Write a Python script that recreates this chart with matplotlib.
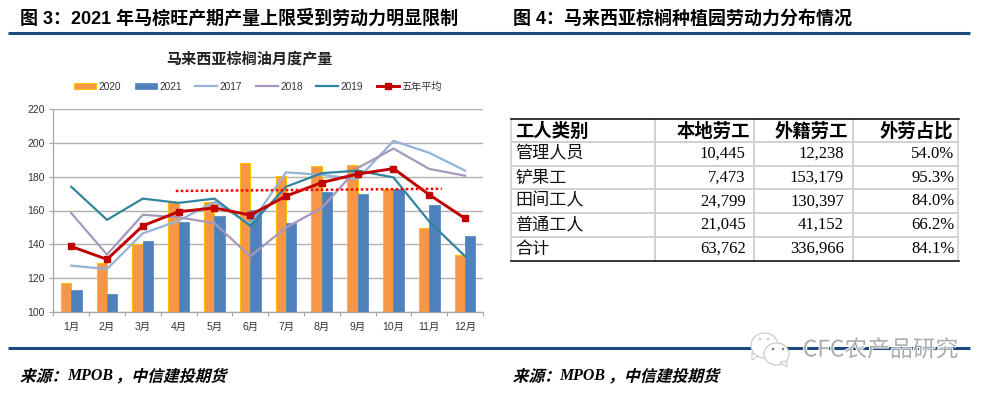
import matplotlib
matplotlib.use('Agg')
import matplotlib.pyplot as plt
from matplotlib.patches import Ellipse, Polygon
from matplotlib.transforms import Affine2D
import matplotlib.patheffects as pe
import numpy as np

CJK = ['Noto Sans CJK SC', 'DejaVu Sans']
SANS = ['Liberation Sans', 'Noto Sans CJK SC']
MIX = ['Liberation Serif', 'Noto Sans CJK SC']
plt.rcParams['font.family'] = SANS

months = ['1月','2月','3月','4月','5月','6月','7月','8月','9月','10月','11月','12月']
y2020 = [117,129,140,165,165,188,180.5,186.5,187,172.5,149.5,133.5]
y2021 = [113,111,142,153,157,160.5,152.5,171,170,172.5,163.5,145]
y2017 = [127.5,125.5,146.5,154,165,152,182.5,181,178.5,201,194,183.5]
y2018 = [158.5,134,157.5,156,152.5,133,150,161.5,185,196.5,184.5,180.5]
y2019 = [174,154.5,167,164.5,167,151,174,182,183.5,179.5,153.5,133]
avg5 = [138.8,131.2,151,159.3,161.5,157.3,168.5,176.5,181.5,184.7,169.3,155.3]
trend_x = [2.92,10.35]
trend_y = [171.5,172.8]

table_header = ['工人类别','本地劳工','外籍劳工','外劳占比']
table_rows = [['管理人员','10,445','12,238','54.0%'],
              ['铲果工','7,473','153,179','95.3%'],
              ['田间工人','24,799','130,397','84.0%'],
              ['普通工人','21,045','41,152','66.2%'],
              ['合计','63,762','336,966','84.1%']]

W,H = 991,394
fig = plt.figure(figsize=(W/100,H/100),dpi=100,facecolor='white')
bg = fig.add_axes([0,0,1,1]); bg.set_xlim(0,W); bg.set_ylim(H,0); bg.axis('off')


class Shear(pe.AbstractPathEffect):
    """Slants glyphs about a baseline, for the italic CJK source lines."""
    def __init__(self, y0, deg=14):
        super().__init__()
        self.t = Affine2D().translate(0,-y0).skew_deg(deg,0).translate(0,y0)
    def draw_path(self, renderer, gc, tpath, affine, rgbFace=None):
        renderer.draw_path(gc, tpath, affine + self.t, rgbFace)


# header / footer rules and titles
BLUE='#1F497D'
for y in (33.3,348.3):
    bg.plot([8,970],[y,y],color=BLUE,lw=2.2,solid_capstyle='butt')
bg.text(20,19,'图 3：2021 年马棕旺产期产量上限受到劳动力明显限制',family=SANS,fontsize=12.95,fontweight='bold',va='center',color='black')
bg.text(512.7,19,'图 4：马来西亚棕榈种植园劳动力分布情况',family=SANS,fontsize=12.95,fontweight='bold',va='center',color='black')
base_y = H-381
for x in (20,512.7):
    sh=[Shear(base_y)]
    bg.text(x,376.5,'来源：',family=CJK,fontsize=11.4,fontweight='bold',va='center',path_effects=sh)
    bg.text(x+47,376.5,'MPOB',family='Liberation Serif',fontsize=11.4,style='italic',va='center',fontweight='bold')
    bg.text(x+95.5,376.5,'，中信建投期货',family=CJK,fontsize=11.4,fontweight='bold',va='center',path_effects=sh)

# chart title
bg.text(249.5,59.3,'马来西亚棕榈油月度产量',family=CJK,fontsize=10.9,fontweight='bold',ha='center',va='center',color='#222222')

# chart
ax = fig.add_axes([53.3/W,1-312.3/H,(483-53.3)/W,(312.3-108.7)/H])
x = np.arange(12)
bw = 0.29
ax.bar(x-bw/2,y2020,bw,color='#F79646',edgecolor='#FFC000',lw=0.8,label='2020',zorder=2)
ax.bar(x+bw/2,y2021,bw,color='#4F81BD',edgecolor='#4F81BD',lw=0.5,label='2021',zorder=2)
ax.plot(x,y2017,color='#95B3D7',lw=1.6,label='2017',zorder=3)
ax.plot(x,y2018,color='#A598BC',lw=1.6,label='2018',zorder=3)
ax.plot(x,y2019,color='#31859C',lw=1.6,label='2019',zorder=3)
ax.plot(x,avg5,color='#C00000',lw=2.1,marker='s',ms=5,label='五年平均',zorder=4)
ax.plot(trend_x,trend_y,color='#FF0000',lw=1.8,ls=(0,(1,1)),zorder=5)
ax.set_xlim(-0.5,11.5); ax.set_ylim(100,220)
ax.set_yticks(range(100,221,20))
ax.set_xticks(x); ax.set_xticklabels(months)
ax.set_xticks(np.arange(-0.5,12,1),minor=True)
ax.grid(axis='y',color='#B0B0B0',lw=1.0,zorder=0); ax.set_axisbelow(True)
for s in ('top','right'): ax.spines[s].set_visible(False)
for s in ('left','bottom'):
    ax.spines[s].set_color('#A6A6A6'); ax.spines[s].set_linewidth(0.9)
ax.tick_params(axis='x',which='minor',length=3,color='#A6A6A6',width=0.8)
ax.tick_params(axis='x',which='major',length=0,labelsize=7.5,pad=7,labelcolor='#333333')
ax.tick_params(axis='y',length=3,color='#A6A6A6',width=0.8,labelsize=7.5,labelcolor='#333333',pad=3)
h,l = ax.get_legend_handles_labels()
order=[l.index(k) for k in ['2020','2021','2017','2018','2019','五年平均']]
fig.legend([h[i] for i in order],[l[i] for i in order],loc='center',bbox_to_anchor=(258/W,1-86.5/H),
           ncol=6,frameon=False,fontsize=7.3,handlelength=2.15,handletextpad=0.25,columnspacing=1.35,labelcolor='#333333',handleheight=0.6)

# table
xs=[511,655,754,852.7,958]
ys=[119.3,141.7,165.7,189,212.7,236.7,260.7]
GRID='#D0D0D0'
for y in ys[1:-1]:
    bg.plot([xs[0],xs[-1]],[y,y],color=GRID,lw=1.4,zorder=1)
for xv in xs[1:-1]:
    bg.plot([xv,xv],[ys[0],ys[-1]],color=GRID,lw=1.4,zorder=1)
for xv in (xs[0],xs[-1]):
    bg.plot([xv,xv],[ys[0],ys[-1]],color=GRID,lw=1.2,zorder=1)
for y in (ys[0],ys[-1]):
    bg.plot([xs[0]-0.5,xs[-1]+0.5],[y,y],color='black',lw=1.1,zorder=2)
rights=[None,750,848.5,953]
hdr_y=131.5
bg.text(515.5,hdr_y,table_header[0],family=CJK,fontsize=13.2,fontweight='bold',va='center',color='black')
for j in (1,2,3):
    bg.text(rights[j],hdr_y,table_header[j],family=CJK,fontsize=13.2,fontweight='bold',va='center',ha='right',color='black')
rights2=[None,745.7,844,954.5]
for i,row in enumerate(table_rows):
    yc=(ys[i+1]+ys[i+2])/2
    bg.text(515,yc,row[0],family=CJK,fontsize=12.3,va='center',color='#111111')
    for j in (1,2,3):
        bg.text(rights2[j],yc+0.3,row[j],family=MIX,fontsize=12,va='center',ha='right',color='black')

# watermark
wm='#C4C8CB'
halo=[pe.withStroke(linewidth=1.4,foreground='white')]
bg.add_patch(Ellipse((764.5,345.5),27,25,fc='white',ec=wm,lw=0.8,zorder=6))
bg.add_patch(Polygon([[752,353],[758,356],[752,360]],closed=True,fc='white',ec=wm,lw=0.7,zorder=6))
bg.add_patch(Ellipse((776.5,354),25,22,fc='white',ec=wm,lw=0.8,zorder=7))
bg.add_patch(Polygon([[780,362],[787,361],[787,367]],closed=True,fc='white',ec=wm,lw=0.7,zorder=7))
for px,py,c in ((760,339,wm),(768,339,wm),(773,349,'#6E7276'),(783,349,'#6E7276')):
    bg.add_patch(Ellipse((px,py),2.4,2.4,fc=c,ec='none',zorder=8))
bg.text(958,350,'CFC农产品研究',family=CJK,fontsize=16.4,color='#A8ACB0',ha='right',va='center',zorder=8,
        path_effects=halo)

fig.savefig('out.png',dpi=100,facecolor='white')
